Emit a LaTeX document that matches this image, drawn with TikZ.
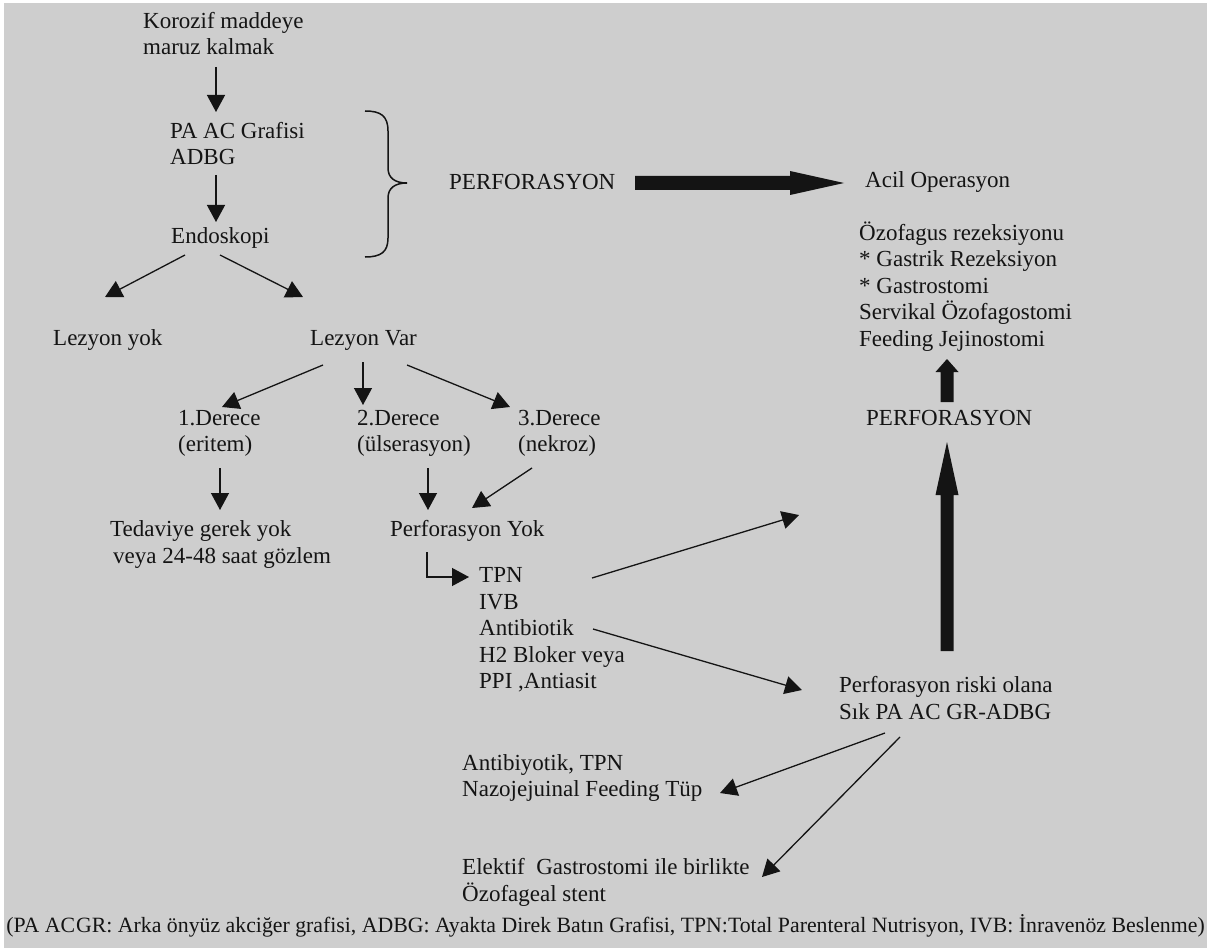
\documentclass[tikz,border=0pt]{standalone}
\usepackage{fontspec}
\setmainfont{Liberation Serif}
\usetikzlibrary{arrows.meta}
\definecolor{bg}{RGB}{206,206,206}
\definecolor{ink}{RGB}{20,20,20}
\begin{document}
\begin{tikzpicture}[x=1pt,y=-1pt,
  txt/.style={anchor=west,align=left,inner sep=0pt,text=ink,font=\fontsize{23}{26.5}\selectfont},
  arr/.style={draw=ink,line width=1.3pt,-{Triangle[width=18pt,length=17pt]}},
  bigarrow/.style={fill=ink}]
\useasboundingbox (0,0) rectangle (1210,952);
\fill[white] (0,0) rectangle (1210,952);
\fill[bg] (4,3) rectangle (1207,948);

% text nodes
\node[txt] (kor) at (143,33.5) {Korozif maddeye\\maruz kalmak};
\node[txt] (pa) at (170,143.5) {PA AC Grafisi\\ADBG};
\node[txt] (endo) at (171,238) {Endoskopi};
\node[txt] (perf1) at (449,182) {PERFORASYON};
\node[txt] (acil) at (865,182) {Acil Operasyon};
\node[txt] (ozof) at (859,286.5) {Özofagus rezeksiyonu\\* Gastrik Rezeksiyon\\* Gastrostomi\\Servikal Özofagostomi\\Feeding Jejinostomi};
\node[txt] (perf2) at (866,418) {PERFORASYON};
\node[txt] (lyok) at (53,340) {Lezyon yok};
\node[txt] (lvar) at (310,340) {Lezyon Var};
\node[txt] (d1) at (178,433.5) {1.Derece\\(eritem)};
\node[txt] (d2) at (357,433.5) {2.Derece\\(ülserasyon)};
\node[txt] (d3) at (518,433.5) {3.Derece\\(nekroz)};
\node[txt] (ted) at (110,544.5) {Tedaviye gerek yok\\\hspace*{3pt}veya 24-48 saat gözlem};
\node[txt] (pyok) at (390,531) {Perforasyon Yok};
\node[txt] (tpn) at (479,630) {TPN\\IVB\\Antibiotik\\H2 Bloker veya\\PPI ,Antiasit};
\node[txt] (risk) at (839,698) {Perforasyon riski olana\\Sık PA AC GR-ADBG};
\node[txt] (anti) at (462,778) {Antibiyotik, TPN\\Nazojejuinal Feeding Tüp};
\node[txt] (elek) at (462,882.5) {Elektif\ \ Gastrostomi ile birlikte\\Özofageal stent};
\node[inner sep=0pt,text=ink,font=\fontsize{21.8}{25}\selectfont] (foot) at (605.5,926) {(PA AC\kern1pt GR: Arka önyüz akciğer grafisi, ADBG: Ayakta Direk Batın Grafisi, TPN:Total Parenteral Nutrisyon, IVB: İnravenöz Beslenme)};

% connector end points
\coordinate (a1s) at (216,67);  \coordinate (a1e) at (216,112);
\coordinate (a2s) at (216,175); \coordinate (a2e) at (216,222);
\coordinate (a3s) at (185,255); \coordinate (a3e) at (105,297);
\coordinate (a4s) at (220,255); \coordinate (a4e) at (303,297);
\coordinate (a5s) at (323,365); \coordinate (a5e) at (222,407);
\coordinate (a6s) at (363,362); \coordinate (a6e) at (363,405);
\coordinate (a7s) at (407,365); \coordinate (a7e) at (510,407);
\coordinate (a8s) at (220,468); \coordinate (a8e) at (220,510);
\coordinate (a9s) at (428,468); \coordinate (a9e) at (428,510);
\coordinate (a10s) at (532,468); \coordinate (a10e) at (472,508);
\coordinate (elb) at (427,552); \coordinate (elbc) at (427,577); \coordinate (elbe) at (469,577);
\coordinate (a11s) at (592,578); \coordinate (a11e) at (799,515);
\coordinate (a12s) at (593,629); \coordinate (a12e) at (802,690);
\coordinate (a13s) at (885,733); \coordinate (a13e) at (720,793);
\coordinate (a14s) at (900,737); \coordinate (a14e) at (762,877);

\draw[arr] (a1s) -- (a1e);
\draw[arr] (a2s) -- (a2e);
\draw[arr] (a3s) -- (a3e);
\draw[arr] (a4s) -- (a4e);
\draw[arr] (a5s) -- (a5e);
\draw[arr] (a6s) -- (a6e);
\draw[arr] (a7s) -- (a7e);
\draw[arr] (a8s) -- (a8e);
\draw[arr] (a9s) -- (a9e);
\draw[arr] (a10s) -- (a10e);
\draw[arr] (elb) -- (elbc) -- (elbe);
\draw[arr] (a11s) -- (a11e);
\draw[arr] (a12s) -- (a12e);
\draw[arr] (a13s) -- (a13e);
\draw[arr] (a14s) -- (a14e);

% brace
\draw[ink,line width=1.5pt] (365,111) .. controls (381,111) and (388,116) .. (388,131) -- (388,168) .. controls (388,178) and (395,183) .. (407,183) .. controls (395,183) and (388,188) .. (388,198) -- (388,238) .. controls (388,252) and (381,257) .. (365,257);

% thick arrows
\fill[bigarrow] (635,176) -- (790,176) -- (790,171) -- (844,183) -- (790,195) -- (790,190) -- (635,190) -- cycle;
\fill[bigarrow] (940.5,402) -- (940.5,372) -- (935.5,372) -- (947,359) -- (958.5,372) -- (953.5,372) -- (953.5,402) -- cycle;
\fill[bigarrow] (940.5,651) -- (940.5,495) -- (935.5,495) -- (947,442) -- (958.5,495) -- (953.5,495) -- (953.5,651) -- cycle;
\end{tikzpicture}
\end{document}
